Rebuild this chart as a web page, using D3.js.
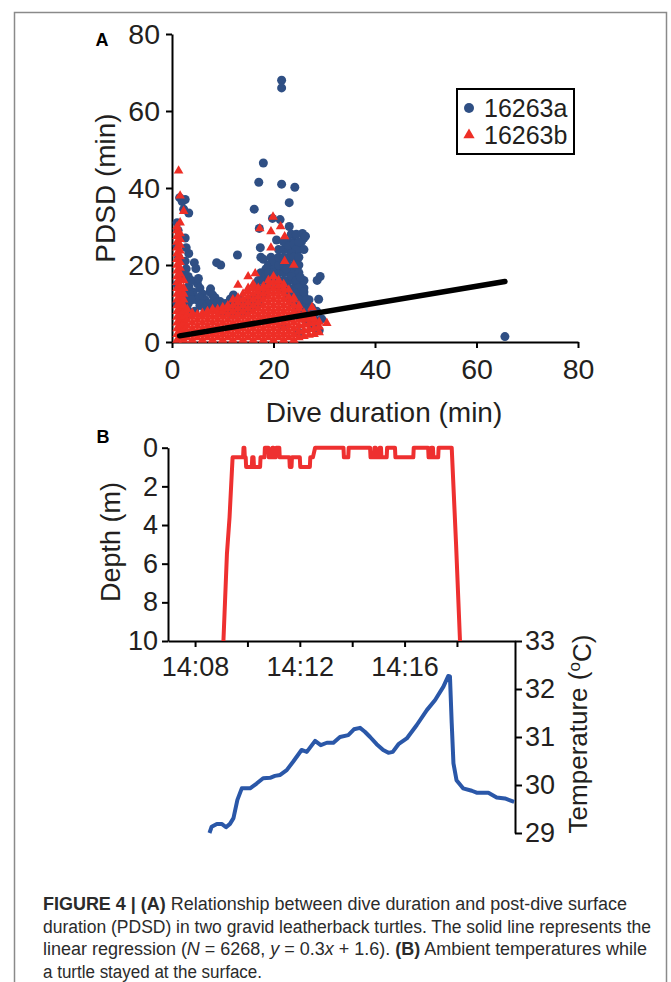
<!DOCTYPE html>
<html>
<head>
<meta charset="utf-8">
<script src="https://cdn.jsdelivr.net/npm/d3@7"></script>
<style>
  body { margin: 0; background: #fff; }
  svg { display: block; }
</style>
</head>
<body>
<svg id="fig" width="671" height="982"></svg>
<script>
// ---- panel A data ----
const durTicks = [0, 20, 40, 60, 80];
const pdsdTicks = [0, 20, 40, 60, 80];
const seriesNames = ["16263a", "16263b"];

// 16263a, [dive duration, PDSD]
const blueDives = [
  [1,31],[1.2,29],[1.5,37.5],[2.0,36.5],[2.6,37],[3.3,33.5],[2.3,34.5],[1,25],[1.3,22],[1.8,18],
  [1,15],[2.5,17],[3,14],[1,10],[2,12],[3.3,23],[4.4,20.6],[4.7,19.1],[5.0,15.2],[3.3,14.5],
  [2.6,27],[2.8,24.5],[2.6,21],[2.8,19],[3.2,17],[2.8,11],[3.2,10],[2.6,6],[3.4,7.5],
  [3.8,16],[4.2,13],[4.8,11],[5.5,9.5],[6.5,8.5],[5.2,16.5],[5.5,14],[6,12.5],[6.5,11],[7.2,10],
  [8,9],[9,8.5],[10,8],[11,7.5],[12,7],[13,7.5],[14,8],[15,8.5],[16,9.5],[7.5,13],[8.5,11.5],
  [9.5,10.5],[10.5,10],[11.5,9.5],[12.5,9],[14.5,10.5],
  [3.5,12.3],[4,11],[5.4,11.6],[5.8,9.8],[6.5,9],[7.6,13.8],[8.0,12.2],[8.3,11.2],[8.9,10.3],[9.5,9.5],
  [11.5,11.2],[12.1,12.2],[12.9,22.6],[8.8,20.6],[9.6,20],[2.5,9],[3,8.5],[4.5,8],[10.5,9],[13.5,11],
  [18,46.5],[17.1,41.5],[21.6,41],[24.2,40.2],[23.1,36.2],[16.2,34.5],[19.8,32.1],[21.3,31.8],[17.2,29.5],[23.1,30],
  [25.7,28.2],[26,27],[20.6,26.5],[17.4,24.5],[17.5,22],[18,21.5],[19,20],[20,19],[18.5,19],[21,18],
  [17,12],[17,14],[17,16],[17.5,18],[18,12],[18,14],[18,16],[18.5,17.5],[19,14],[19,16],[19,18],[19.5,22],
  [20,16],[20,18],[20,21],[21,16],[21,20],[21,22],[21,24],
  [22,14],[22,18],[22,20],[22,22],[22,24],[22.5,26],[23,12],[23,16],[23,18],[23,22],[23,24],[23,26],[23.5,28],
  [24,10],[24,12],[24,14],[24,16],[24,18],[24,20],[24,24],[24,26],[24.5,28],
  [25,8],[25,10],[25,12],[25,15],[25,20],[25,24],[25.5,26],[26,6],[26,10],[26,12],[26,14],[26,16],[26,24],[26.3,27.5],
  [27,5],[27,7],[27,9],[27,11],[28,4],[28,6],[28.5,8],[29,3],[29.5,6],
  [22,26],[23,25],[24,25.5],[24.5,24],[25,26],[23.5,23],[24,22],[25,22],[23,20],
  [24.5,20],[22.5,19],[25,18],[23.5,17],[24.5,16],[25.3,16.8],[22,16],[21,14],[23,14],[25,14],
  [24,13],[26,13],[25,11],[26.5,11],[29.2,17],[28.6,16],[28.9,11.1],[27.5,9],[28,7.5],[26,8],[24.5,9],
  [21.6,68],[21.6,66],[65.6,1.4],[25,2.5],[22,4],[17,10],[15,10],[13,10],[16,11.5]
];

// 16263b, columns of [dive duration, [PDSD values]]
const redColumns = [
  [1.0, [0.5,2,3.5,5,6.5,8,9.5,11,12.5,14,15.5,17,18.5,20,21.5,23,24.5,26,27.5,29,30]],
  [1.6, [1.2,2.7,4.2,5.7,7.2,8.7,10.2,11.7,13.2,14.7,16.2,17.7,19.2,20.7,22.2,23.7,25.2,26.7,28.2,31,38]],
  [1.3, [44.5]],
  [2.3, [0.5,2,3.5,5,6.5,8,9.5,11,12.5,14,16,34]],
  [3,  [1.2,2.7,4.2,5.7,7.2,8.5]],
  [4,  [0.5,2,3.5,5,6.5,7.5]],
  [5,  [1.2,2.7,4.2,5.7,7.2]],
  [6,  [0.5,2,3.5,5,6.5,7.5]],
  [7,  [1.2,2.7,4.2,5.7,7.2,8]],
  [8,  [0.5,2,3.5,5,6.5,8,8.5]],
  [9,  [1.2,2.7,4.2,5.7,7.2,8.5]],
  [10, [0.5,2,3.5,5,6.5,8,9]],
  [11, [1.2,2.7,4.2,5.7,7.2,8.7,9.5]],
  [12, [0.5,2,3.5,5,6.5,8,9.5,11]],
  [13, [1.2,2.7,4.2,5.7,7.2,8.7,10.2,11.5,14.8]],
  [14, [0.5,2,3.5,5,6.5,8,9.5,11,12.5]],
  [15, [1.2,2.7,4.2,5.7,7.2,8.7,10.2,11.7,13.2,14,17]],
  [16, [0.5,2,3.5,5,6.5,8,9.5,11,12.5,14,15]],
  [16.4, [17.8]],
  [17, [1.2,2.7,4.2,5.7,7.2,8.7,10.2,11.7,13.2,14]],
  [17.3, [29.5]],
  [18, [0.5,2,3.5,5,6.5,8,9.5,11,12.5,14,14.5]],
  [19, [1.2,2.7,4.2,5.7,7.2,8.7,10.2,11.7,13.2,14.7,16]],
  [19.5, [24.5,28.7]],
  [20, [0.5,2,3.5,5,6.5,8,9.5,11,12.5,14,15.5,17]],
  [19.9, [32.5]],
  [21, [1.2,2.7,4.2,5.7,7.2,8.7,10.2,11.7,13.2,14.7,16]],
  [21.4, [30]],
  [22, [0.5,2,3.5,5,6.5,8,9.5,11,12.5,14,15]],
  [22.2, [21,27.4]],
  [23, [1.2,2.7,4.2,5.7,7.2,8.7,10.2,11.7,13.5]],
  [24, [0.5,2,3.5,5,6.5,8,9.5,11,11.5,20]],
  [25, [1.2,2.7,4.2,5.7,7.2,8.7,9.5]],
  [26, [1.5,3,4.5,6,7.5]],
  [27, [1.8,3.3,4.8,6,7]],
  [27.6, [9]],
  [28, [2,3.5,5,6]],
  [29, [2.5,4,5.2]],
  [30.5, [4.9]]
];

// regression line end points as drawn
const regression = [[1.5, 1.6], [65.6, 15.7]];

// ---- panel B data ----
const depthTicks = [0, 2, 4, 6, 8, 10];
const tempTicks = [29, 30, 31, 32, 33];
const timeTicks = ["14:08", "14:10", "14:12", "14:14", "14:16", "14:18"];
const timeLabels = ["14:08", "14:12", "14:16"];
const timeDomain = ["14:06:58", "14:20:13"];

// [time, depth m]
const depthTrace = [
  ["14:09:05",10],["14:09:13",5.5],["14:09:19",3.6],["14:09:26",0.5],
  ["14:09:50",0.5],["14:09:51",0],["14:09:53",0],["14:09:54",0.5],["14:09:56",0.5],["14:09:57",1],
  ["14:10:10",1],["14:10:11",0.5],["14:10:14",0.5],["14:10:15",1],["14:10:29",1],["14:10:30",0.5],
  ["14:10:39",0.5],["14:10:40",0],["14:10:48",0],["14:10:49",0.5],["14:10:56",0.5],["14:10:57",0],
  ["14:11:00",0],["14:11:01",0.5],["14:11:05",0.5],["14:11:06",0],["14:11:13",0],["14:11:14",0.5],
  ["14:11:36",0.5],["14:11:37",1],["14:11:41",1],["14:11:42",0.5],
  ["14:12:00",0.5],["14:12:01",1],["14:12:23",1],["14:12:24",0.5],["14:12:30",0.5],["14:12:35",0],
  ["14:13:40",0],["14:13:41",0.5],["14:13:51",0.5],["14:13:52",0],
  ["14:14:41",0],["14:14:42",0.5],["14:14:50",0.5],["14:14:51",0],["14:14:54",0],["14:14:55",0.5],
  ["14:15:02",0.5],["14:15:03",0],["14:15:06",0],["14:15:07",0.5],["14:15:19",0.5],["14:15:20",0],
  ["14:15:38",0],["14:15:39",0.5],["14:16:20",0.5],["14:16:21",0],
  ["14:16:54",0],["14:16:55",0.5],["14:17:00",0.5],["14:17:01",0],["14:17:05",0],["14:17:06",0.5],
  ["14:17:17",0.5],["14:17:18",0],["14:17:48",0],["14:17:58",5],["14:18:07",10]
];

// [time, ambient temperature C]
const tempTrace = [
  ["14:08:33",29.0],["14:08:38",29.13],["14:08:50",29.19],["14:09:01",29.19],["14:09:11",29.12],
  ["14:09:20",29.19],["14:09:28",29.31],["14:09:37",29.69],["14:09:47",29.93],["14:10:06",29.93],
  ["14:10:21",30.03],["14:10:36",30.14],["14:10:52",30.15],["14:11:03",30.19],["14:11:15",30.21],
  ["14:11:30",30.31],["14:11:45",30.49],["14:12:04",30.73],["14:12:16",30.69],["14:12:35",30.92],
  ["14:12:48",30.83],["14:13:02",30.88],["14:13:17",30.88],["14:13:32",31.0],["14:13:51",31.04],
  ["14:14:04",31.16],["14:14:18",31.19],["14:14:29",31.11],["14:14:41",31.0],["14:14:56",30.85],
  ["14:15:11",30.73],["14:15:23",30.67],["14:15:33",30.69],["14:15:46",30.85],["14:16:05",30.97],
  ["14:16:28",31.25],["14:16:51",31.56],["14:17:10",31.77],["14:17:29",32.05],["14:17:40",32.27],
  ["14:17:44",32.26],["14:17:48",31.29],["14:17:52",30.45],["14:17:59",30.1],["14:18:14",29.93],
  ["14:18:34",29.88],["14:18:45",29.84],["14:19:12",29.84],["14:19:31",29.74],["14:19:50",29.72],
  ["14:20:11",29.65]
];

const captionLines = [
  [["FIGURE 4 | (A)", "b"], [" Relationship between dive duration and post-dive surface", ""]],
  [["duration (PDSD) in two gravid leatherback turtles. The solid line represents the", ""]],
  [["linear regression (", ""], ["N", "i"], [" = 6268, ", ""], ["y", "i"], [" = 0.3", ""], ["x", "i"],
   [" + 1.6). ", ""], ["(B)", "b"], [" Ambient temperatures while", ""]],
  [["a turtle stayed at the surface.", ""]]
];
const captionWidths = [584, 608, 604, 219];

// ---- drawing ----
const FONT = "'Liberation Sans', Arial, Helvetica, sans-serif";
const INK = "#231f20";
const BLUE = "#2f4f84";
const RED = "#ee2e26";
const TEMP_BLUE = "#2a57a8";

const svg = d3.select("#fig");

// outer frame
svg.append("path")
  .attr("d", "M14.5,990 V12.5 H666.5 V990")
  .attr("fill", "none").attr("stroke", "#8a8a8a").attr("stroke-width", 1.5);

function styleAxis(g, size) {
  g.select(".domain").attr("stroke", "#000").attr("stroke-width", 2);
  g.selectAll(".tick line").attr("stroke", "#000").attr("stroke-width", 2);
  g.selectAll(".tick text").attr("fill", INK).style("font-family", FONT).style("font-size", size + "px");
}

// ===== Panel A =====
const x = d3.scaleLinear().domain([0, 80]).range([172, 578]);
const y = d3.scaleLinear().domain([0, 80]).range([342, 34]);

svg.append("g")
  .attr("transform", "translate(0,342)")
  .call(d3.axisBottom(x).tickValues(durTicks).tickSize(6).tickSizeOuter(0).tickPadding(11))
  .call(g => styleAxis(g, 28.5));

svg.append("g")
  .attr("transform", "translate(172,0)")
  .call(d3.axisLeft(y).tickValues(pdsdTicks).tickSize(6).tickSizeOuter(0).tickPadding(6))
  .call(g => styleAxis(g, 28.5));

svg.append("g").selectAll("circle")
  .data(blueDives)
  .join("circle")
    .attr("cx", d => x(d[0]))
    .attr("cy", d => y(d[1]))
    .attr("r", 4.5)
    .attr("fill", BLUE);

const redDives = redColumns.flatMap(([d, ps]) => ps.map(p => [d, p]));
const tri = d3.symbol(d3.symbolTriangle, 40);
svg.append("g").selectAll("path")
  .data(redDives)
  .join("path")
    .attr("transform", d => `translate(${x(d[0])},${y(d[1])})`)
    .attr("d", tri)
    .attr("fill", RED);

svg.append("path")
  .datum(regression)
  .attr("d", d3.line().x(d => x(d[0])).y(d => y(d[1])))
  .attr("stroke", "#000").attr("stroke-width", 5.5).attr("stroke-linecap", "round");

// legend
const leg = svg.append("g");
leg.append("rect")
  .attr("x", 457).attr("y", 89).attr("width", 117).attr("height", 65)
  .attr("fill", "#fff").attr("stroke", "#000").attr("stroke-width", 2);
leg.append("circle").attr("cx", 469).attr("cy", 108).attr("r", 5).attr("fill", BLUE);
leg.append("path").attr("transform", "translate(469,135)")
  .attr("d", d3.symbol(d3.symbolTriangle, 55)).attr("fill", RED);
leg.selectAll("text")
  .data(seriesNames)
  .join("text")
    .attr("x", 484)
    .attr("y", (d, i) => 108 + i * 27)
    .attr("dy", "0.36em")
    .attr("fill", INK)
    .style("font-family", FONT).style("font-size", "25px")
    .text(d => d);

svg.append("text")
  .attr("x", 384).attr("y", 412).attr("dy", "0.36em")
  .attr("text-anchor", "middle").attr("fill", INK)
  .style("font-family", FONT).style("font-size", "28px")
  .text("Dive duration (min)");

svg.append("text")
  .attr("transform", "translate(105,188) rotate(-90)")
  .attr("dy", "0.36em")
  .attr("text-anchor", "middle").attr("fill", INK)
  .style("font-family", FONT).style("font-size", "28px")
  .text("PDSD (min)");

svg.append("text")
  .attr("x", 102).attr("y", 40).attr("dy", "0.36em")
  .attr("text-anchor", "middle").attr("fill", "#000")
  .style("font-family", FONT).style("font-size", "18px").style("font-weight", "bold")
  .text("A");

// ===== Panel B =====
const parseT = d3.timeParse("%H:%M:%S");
const parseHM = d3.timeParse("%H:%M");
const t = d3.scaleTime().domain(timeDomain.map(parseT)).range([168, 515]);
const depth = d3.scaleLinear().domain([0, 10]).range([447.7, 641]);
const temp = d3.scaleLinear().domain([29, 33]).range([833, 641]);
const fmt = d3.timeFormat("%H:%M");

svg.append("g")
  .attr("transform", "translate(0,641)")
  .call(d3.axisBottom(t).tickValues(timeTicks.map(parseHM)).tickSize(6).tickSizeOuter(0).tickPadding(10)
    .tickFormat(d => timeLabels.includes(fmt(d)) ? fmt(d) : ""))
  .call(g => styleAxis(g, 27));

svg.append("g")
  .attr("transform", "translate(168,0)")
  .call(d3.axisLeft(depth).tickValues(depthTicks).tickSize(6).tickSizeOuter(0).tickPadding(4))
  .call(g => styleAxis(g, 27));

svg.append("g")
  .attr("transform", "translate(515,0)")
  .call(d3.axisRight(temp).tickValues(tempTicks).tickSize(7).tickSizeOuter(0).tickPadding(3)
    .tickFormat(d3.format("d")))
  .call(g => styleAxis(g, 27));

svg.append("path")
  .datum(depthTrace)
  .attr("d", d3.line().x(d => t(parseT(d[0]))).y(d => depth(d[1])))
  .attr("fill", "none").attr("stroke", "#ee3030").attr("stroke-width", 4)
  .attr("stroke-linejoin", "round");

svg.append("path")
  .datum(tempTrace)
  .attr("d", d3.line().x(d => t(parseT(d[0]))).y(d => temp(d[1])))
  .attr("fill", "none").attr("stroke", TEMP_BLUE).attr("stroke-width", 4)
  .attr("stroke-linejoin", "round");

svg.append("text")
  .attr("transform", "translate(110,542) rotate(-90)")
  .attr("dy", "0.36em")
  .attr("text-anchor", "middle").attr("fill", INK)
  .style("font-family", FONT).style("font-size", "27px")
  .text("Depth (m)");

const tl = svg.append("text")
  .attr("transform", "translate(578,734) rotate(-90)")
  .attr("dy", "0.36em")
  .attr("text-anchor", "middle").attr("fill", INK)
  .style("font-family", FONT).style("font-size", "26px");
tl.append("tspan").text("Temperature (");
tl.append("tspan").attr("dy", "-0.45em").style("font-size", "17px").text("o");
tl.append("tspan").attr("dy", "0.45em").text("C)");

svg.append("text")
  .attr("x", 103).attr("y", 437).attr("dy", "0.36em")
  .attr("text-anchor", "middle").attr("fill", "#000")
  .style("font-family", FONT).style("font-size", "18px").style("font-weight", "bold")
  .text("B");

// ===== caption =====
const cap = svg.append("g")
  .style("font-family", "'Liberation Sans Narrow', 'Arial Narrow', 'Liberation Sans', sans-serif")
  .style("font-size", "18px")
  .attr("fill", "#2b2b2b");
captionLines.forEach((line, i) => {
  const txt = cap.append("text")
    .attr("x", 43).attr("y", 910 + i * 22.7)
    .attr("textLength", captionWidths[i])
    .attr("lengthAdjust", "spacingAndGlyphs");
  line.forEach(([s, st]) => {
    const sp = txt.append("tspan").text(s);
    if (st === "b") sp.style("font-weight", "bold");
    if (st === "i") sp.style("font-style", "italic");
  });
});
</script>
</body>
</html>
